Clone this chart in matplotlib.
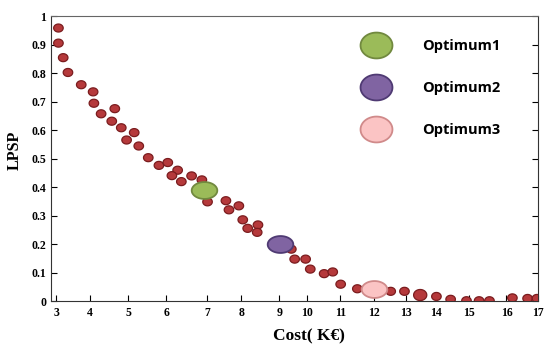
"""Pareto front of LPSP vs. cost with the three chosen optima."""
import matplotlib

matplotlib.use("Agg")
import matplotlib.pyplot as plt
import numpy as np
from matplotlib.lines import Line2D
from matplotlib.path import Path

# --------------------------------------------------------------------------- #
# Data
# --------------------------------------------------------------------------- #
cost = [3.07, 3.07, 3.21, 3.35, 3.74, 4.08, 4.10, 4.65, 4.29, 4.57, 4.82, 5.16,
        4.96, 5.28, 5.53, 5.81, 6.04, 6.28, 6.14, 6.37, 6.62, 6.87, 7.01, 7.55,
        7.64, 7.93, 8.04, 8.17, 8.44, 8.42, 9.43, 9.55, 9.94, 10.09, 10.51,
        10.77, 11.01, 11.50, 12.51, 12.94, 13.46, 14.00, 14.43, 14.91, 15.26,
        15.54, 16.19, 16.68, 16.98]
lpsp = [0.958, 0.905, 0.854, 0.802, 0.759, 0.734, 0.694, 0.675, 0.657, 0.631,
        0.608, 0.591, 0.565, 0.544, 0.503, 0.476, 0.486, 0.459, 0.440, 0.419,
        0.439, 0.425, 0.348, 0.352, 0.320, 0.334, 0.285, 0.255, 0.267, 0.241,
        0.182, 0.147, 0.147, 0.112, 0.096, 0.102, 0.059, 0.043, 0.034, 0.034,
        0.021, 0.016, 0.006, 0.001, 0.001, 0.001, 0.011, 0.009, 0.009]
big_dot = [False] * len(cost)
big_dot[40] = True  # one slightly larger point near 13.5

opt_names = ["Optimum1", "Optimum2", "Optimum3"]
opt_cost = [6.93, 9.01, 11.99]
opt_lpsp = [0.389, 0.199, 0.041]
opt_face = ["#9BBB59", "#8064A2", "#FBC4C4"]
opt_edge = ["#71893F", "#4F3A73", "#D08A8A"]

x_ticks = list(range(3, 18))
y_ticks = [0, 0.1, 0.2, 0.3, 0.4, 0.5, 0.6, 0.7, 0.8, 0.9, 1]

# The original axis is hand-drawn with uneven tick spacing; warp the scale
# so each tick lands where it does in the source figure.
warp_val = [2.0, 3, 4, 5, 6, 7, 8, 9, 10, 11, 12, 13, 14, 15, 16, 17, 18.0]
warp_pix = [22, 56, 90, 128, 166, 207, 241, 279, 307, 340, 374, 406, 436, 469,
            506, 537, 568]


def fwd(x):
    return np.interp(x, warp_val, warp_pix)


def inv(p):
    return np.interp(p, warp_pix, warp_val)


def ellipse_marker(aspect):
    t = np.linspace(0, 2 * np.pi, 60)
    verts = np.column_stack([np.cos(t), aspect * np.sin(t)])
    return Path(verts, closed=True)


dot = ellipse_marker(0.84)
opt_mark = ellipse_marker(0.66)
leg_mark = ellipse_marker(0.81)

serif = {"family": "Liberation Serif", "weight": "bold"}

fig = plt.figure(figsize=(5.5, 3.49), dpi=100)
ax = fig.add_axes([0.092, 0.1375, 0.887, 0.8165])
ax.set_xscale("function", functions=(fwd, inv))

sizes = [90 if b else 47 for b in big_dot]
ax.scatter(cost, lpsp, s=sizes, marker=dot, facecolor="#B5393B",
           edgecolor="#7A1C1E", linewidth=0.9, zorder=3)
for c, l, fc, ec in zip(opt_cost, opt_lpsp, opt_face, opt_edge):
    ax.scatter([c], [l], s=340, marker=opt_mark, facecolor=fc, edgecolor=ec,
               linewidth=1.3, zorder=4)

ax.set_xlim(2.84, 17.03)
ax.set_ylim(0, 1)
ax.set_xticks(x_ticks)
ax.set_yticks(y_ticks)
ax.set_xticklabels([str(v) for v in x_ticks], fontdict=serif, fontsize=8.5)
ax.set_yticklabels([f"{v:g}" for v in y_ticks], fontdict=serif, fontsize=8.5)
ax.tick_params(axis="x", direction="in", length=4, pad=4, top=False)
ax.tick_params(axis="y", direction="in", length=4, pad=3, right=True)
ax.xaxis.set_minor_locator(plt.NullLocator())
for side in ["left", "bottom", "right"]:
    ax.spines[side].set_color("#333333")
ax.spines["top"].set_color("#666666")

ax.set_xlabel("Cost( K€)", fontdict=serif, fontsize=12.5)
ax.set_ylabel("LPSP", fontdict=serif, fontsize=11.5)
ax.xaxis.set_label_coords(0.53, -0.095)
ax.yaxis.set_label_coords(-0.058, 0.53)

handles = [Line2D([], [], ls="none", marker=leg_mark, markersize=23,
                  markerfacecolor=fc, markeredgecolor=ec, markeredgewidth=1.3)
           for fc, ec in zip(opt_face, opt_edge)]
ax.legend(handles, opt_names, loc="upper left", bbox_to_anchor=(0.638, 0.918),
          frameon=False, borderpad=0, borderaxespad=0, labelspacing=1.9,
          handlelength=2, handletextpad=2.1,
          prop={"family": "Open Sans", "weight": "bold", "size": 10.5})

fig.savefig("out.png", dpi=100)
